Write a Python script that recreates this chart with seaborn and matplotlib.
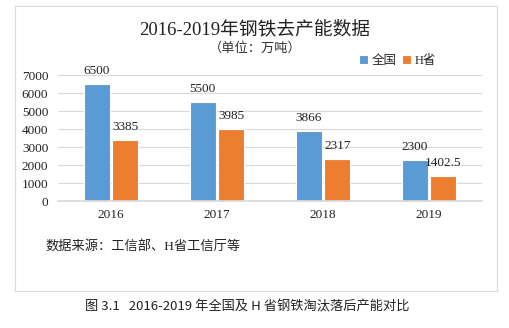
import matplotlib
matplotlib.use("Agg")
import matplotlib.pyplot as plt
from matplotlib.patches import Rectangle
import seaborn as sns
import pandas as pd

years = ["2016", "2017", "2018", "2019"]
national = [6500, 5500, 3866, 2300]
province = [3385, 3985, 2317, 1402.5]
series_names = ["全国", "H省"]
colors = ["#5B9BD5", "#ED7D31"]
yticks = [0, 1000, 2000, 3000, 4000, 5000, 6000, 7000]

df = pd.DataFrame({
    "year": years * 2,
    "value": national + province,
    "series": [series_names[0]] * 4 + [series_names[1]] * 4,
})

sns.set_theme(style="white")
FAM = ["Liberation Serif", "Noto Sans CJK SC", "DejaVu Sans"]
CJK = ["Noto Sans CJK SC", "Liberation Serif", "DejaVu Sans"]
plt.rcParams["font.family"] = FAM

W, H = 509, 328
fig = plt.figure(figsize=(W / 100, H / 100), dpi=100)
ax = fig.add_axes([58 / W, 1 - 201 / H, (482 - 58) / W, (201 - 75) / H])

sns.barplot(data=df, x="year", y="value", hue="series", palette=colors,
            width=0.54, gap=0.1, ax=ax, edgecolor="white", linewidth=0.8,
            saturation=1, legend=True)

ax.set_ylim(0, 7000)
ax.set_yticks(yticks)
ax.set_yticklabels([str(t) for t in yticks], fontsize=9.5, color="#222222")
ax.tick_params(axis="x", labelsize=9.5, colors="#222222", pad=6, length=0)
ax.tick_params(axis="y", length=0, pad=7)
ax.set_xlabel("")
ax.set_ylabel("")
ax.grid(axis="y", color="#D9D9D9", linewidth=0.8)
ax.set_axisbelow(True)
for s in ["top", "right", "left"]:
    ax.spines[s].set_visible(False)
ax.spines["bottom"].set_color("#D9D9D9")
ax.set_xlim(-0.5, 3.5)

for cont in ax.containers:
    labels = [f"{v:g}" for v in cont.datavalues]
    ax.bar_label(cont, labels=labels, padding=5, fontsize=9.5, color="#222222")

handles, lbls = ax.get_legend_handles_labels()
ax.legend(handles, lbls, loc="lower right", bbox_to_anchor=(442 / W, 1 - 73 / H),
          bbox_transform=fig.transFigure, ncol=2, frameon=False,
          handlelength=0.7, handleheight=0.7, handletextpad=0.3, columnspacing=0.4,
          prop={"family": FAM, "size": 9}, borderpad=0)

fig.text(255 / W, 1 - 30 / H, "2016-2019年钢铁去产能数据", ha="center", va="center",
         fontsize=13.5, color="#222222")
fig.text(255 / W, 1 - 48 / H, "（单位：万吨）", ha="center", va="center",
         fontsize=9.5, color="#333333", family=CJK)
fig.text(45 / W, 1 - 247 / H, "数据来源：工信部、H省工信厅等", ha="left", va="center",
         fontsize=9.5, color="#222222")
fig.text(85 / W, 1 - 307 / H, "图 3.1   2016-2019 年全国及 H 省钢铁淘汰落后产能对比",
         ha="left", va="center", fontsize=9.5, color="#222222", family=CJK)

fig.add_artist(Rectangle((15 / W, 1 - 291 / H), (497 - 15) / W, (291 - 6) / H,
                         transform=fig.transFigure, fill=False,
                         edgecolor="#D9D9D9", linewidth=0.8))

fig.savefig("out.png", dpi=100)
